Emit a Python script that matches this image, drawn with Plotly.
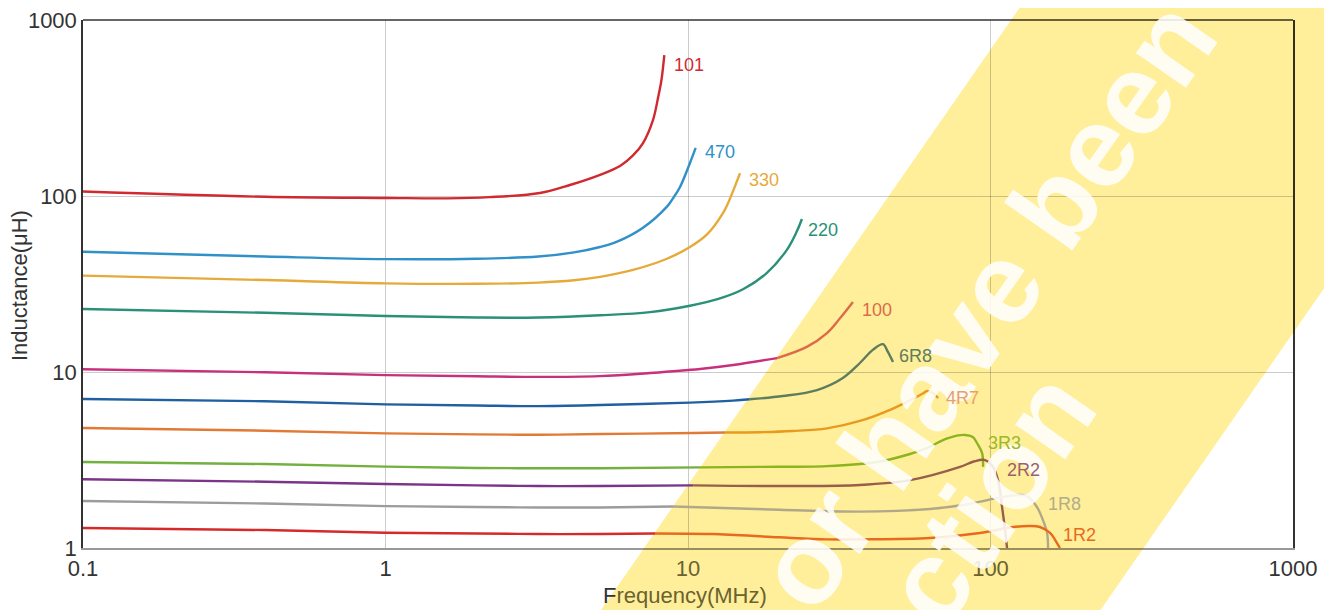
import numpy as np
import plotly.graph_objects as go

# ---------------- data ----------------
series_names = ["101", "470", "330", "220", "100", "6R8", "4R7", "3R3", "2R2", "1R8", "1R2"]

freq_101 = [0.1, 0.4, 1.0, 1.6, 2.2, 3.24, 4.07, 5.12, 5.96, 6.58, 7.10, 7.66, 7.97, 8.17, 8.35]
ind_101 = [106, 99, 97.5, 97, 98.5, 104, 115.5, 132, 148, 170, 200, 270, 365, 456, 632]

freq_470 = [0.1, 0.4, 1.0, 2.0, 3.2, 4.2, 5.12, 5.83, 7.10, 8.52, 8.92, 9.41, 10.15, 10.6]
ind_470 = [48.2, 45.3, 43.8, 44.0, 45.3, 47.8, 51.3, 55.0, 66, 87, 97, 112.5, 154, 187.5]

freq_330 = [0.1, 0.4, 1.0, 2.0, 3.2, 4.2, 5.12, 6.58, 8.52, 10.15, 11.56, 13.05, 13.56, 14.1, 14.86]
ind_330 = [35.3, 33.3, 31.9, 31.7, 32.2, 33.2, 34.7, 38.0, 44.0, 51.3, 60.5, 80, 91, 107, 135]

freq_220 = [0.1, 0.4, 1.0, 2.0, 3.2, 5.12, 7.49, 10.15, 12.6, 15.2, 18.2, 21.2, 22.9, 23.8]
ind_220 = [22.8, 21.7, 20.8, 20.4, 20.4, 21.0, 21.9, 23.8, 26.0, 29.5, 36.5, 49.3, 63, 74]

freq_100 = [0.1, 0.4, 1.0, 2.0, 3.2, 5.1, 7.5, 10.96, 14.1, 19.7, 24.7, 28.8, 31.8, 35.1]
ind_100 = [10.36, 9.96, 9.6, 9.45, 9.38, 9.48, 9.87, 10.4, 10.96, 12.0, 13.9, 16.65, 20.2, 25.0]

freq_6R8 = [0.1, 0.4, 1.0, 2.0, 3.2, 5.12, 10.15, 14.1, 16.0, 20.6, 26.7, 32.5, 37.0, 40.9, 44.1, 45.8, 47.6]
ind_6R8 = [7.03, 6.82, 6.55, 6.45, 6.4, 6.49, 6.7, 6.88, 7.0, 7.3, 7.9, 9.25, 11.25, 13.4, 14.4, 13.0, 11.4]

freq_4R7 = [0.1, 0.4, 1.0, 2.0, 3.2, 5.12, 10.4, 13.25, 17.3, 22.2, 28.8, 37.0, 47.6, 55.0, 59.8, 61.7, 64.5, 67.1]
ind_4R7 = [4.81, 4.64, 4.48, 4.42, 4.40, 4.44, 4.5, 4.53, 4.55, 4.62, 4.78, 5.27, 6.2, 7.0, 7.55, 7.8, 7.6, 7.12]

freq_3R3 = [0.1, 0.4, 1.0, 2.0, 3.2, 5.12, 10.96, 17.3, 28.8, 42.2, 54.2, 61.7, 72.0, 82.3, 87.4, 90.2, 93.8, 94.5]
ind_3R3 = [3.08, 3.0, 2.90, 2.85, 2.84, 2.84, 2.87, 2.89, 2.92, 3.08, 3.42, 3.70, 4.2, 4.39, 4.27, 3.95, 3.46, 2.89]

freq_2R2 = [0.1, 0.4, 1.0, 2.0, 3.2, 5.12, 10.4, 22.2, 37.0, 54.2, 79.3, 88.0, 95.9, 101.9, 105.9, 109.2, 111.7, 113.4]
ind_2R2 = [2.46, 2.38, 2.31, 2.27, 2.25, 2.25, 2.27, 2.25, 2.28, 2.43, 2.89, 3.1, 3.16, 2.89, 2.43, 1.71, 1.27, 1.0]

freq_1R8 = [0.1, 0.4, 1.0, 2.0, 3.2, 5.12, 8.92, 20.0, 37.0, 63.1, 81.1, 105.1, 122.4, 132.1, 142.4, 149.1, 153.8, 155.0]
ind_1R8 = [1.85, 1.79, 1.73, 1.71, 1.70, 1.70, 1.72, 1.65, 1.61, 1.666, 1.755, 1.92, 2.0, 1.97, 1.71, 1.44, 1.22, 1.0]

freq_1R2 = [0.1, 0.4, 1.0, 2.0, 3.2, 5.12, 7.78, 12.0, 20.0, 28.8, 37.0, 63.1, 92.3, 118.7, 135.1, 145.7, 157.3, 165.9, 169.7]
ind_1R2 = [1.30, 1.265, 1.22, 1.21, 1.20, 1.20, 1.21, 1.20, 1.15, 1.12, 1.12, 1.14, 1.217, 1.316, 1.334, 1.316, 1.217, 1.067, 1.0]

x_tick_vals = [0.1, 1, 10, 100, 1000]
x_tick_text = ["0.1", "1", "10", "100", "1000"]
y_tick_vals = [1, 10, 100, 1000]
y_tick_text = ["1", "10", "100", "1000"]

# ---------------- styles ----------------
freqs = [freq_101, freq_470, freq_330, freq_220, freq_100, freq_6R8, freq_4R7, freq_3R3, freq_2R2, freq_1R8, freq_1R2]
inds = [ind_101, ind_470, ind_330, ind_220, ind_100, ind_6R8, ind_4R7, ind_3R3, ind_2R2, ind_1R8, ind_1R2]

base_colors = ["#d02a30", "#3090c8", "#e6aa3a", "#2a9078", "#c8307e", "#2060a0",
               "#e07a36", "#72b040", "#7a3488", "#9c9c9c", "#d42a2a"]
band_colors = ["#d02a30", "#3090c8", "#e6aa3a", "#2a9078", "#dd6a4a", "#5e7d5e",
               "#e89a1e", "#8cb41e", "#9a5e48", "#b0a888", "#e86a1e"]
label_colors = ["#d02a30", "#3090c8", "#e6aa3a", "#2a9078", "#dd6a4a", "#5e7d5e",
                "#e8a070", "#9ab82a", "#9a6070", "#b4ac8a", "#e86a1e"]
label_shift = [(8, -10), (7, -4), (7, -7), (4, -11), (7, -8), (4, 6),
               (6, 0), (3, 24), (-2, 78), (-2, 44), (1, 13)]

# page offset of the figure inside the browser window (body margin)
OX, OY = 8, 8
# plot area in window pixels
SL, ST, SW, SH = 83, 20, 1210, 528
W, H = 1332 - OX, 610 - OY
ML, MT = SL - OX, ST - OY
MR, MB = W - ML - SW, H - MT - SH


def to_screen(f, L):
    px = SL + SW * (np.log10(f) + 1) / 4.0
    py = ST + SH * (3 - np.log10(L)) / 3.0
    return px, py


def in_band(f, L):
    px, py = to_screen(f, L)
    return px >= 1025 - 0.695 * py - 2


def paper(sx, sy):
    return (sx - SL) / SW, (ST + SH - sy) / SH


fig = go.Figure()

for name, f, L, c0, c1 in zip(series_names, freqs, inds, base_colors, band_colors):
    flags = [in_band(a, b) for a, b in zip(f, L)]
    k = flags.index(True) if True in flags else None
    if k is None:
        parts = [(f, L, c0)]
    else:
        parts = [(f[:k + 1], L[:k + 1], c0), (f[k:], L[k:], c1)]
    for ff, ll, cc in parts:
        fig.add_trace(go.Scatter(
            x=ff, y=ll, mode="lines", name=name,
            line=dict(color=cc, width=2.4, shape="spline", smoothing=1.0),
            hoverinfo="skip", showlegend=False))

# yellow watermark band (drawn behind the curves)
corners = [(1025, 0), (1524.5, 0), (1100.5, 610), (601, 610)]
pc = [paper(*c) for c in corners]
path = "M " + " L ".join(f"{x:.4f},{y:.4f}" for x, y in pc) + " Z"
shapes = [
    dict(type="path", path=path, xref="paper", yref="paper",
         fillcolor="#FFEF9A", line=dict(width=0), layer="below"),
    dict(type="line", xref="paper", yref="paper", x0=0, x1=1, y0=1, y1=1,
         line=dict(color="rgba(0,0,0,0.8)", width=1.5), layer="above"),
]

annotations = []
# white watermark text
wm_font = dict(family="Liberation Sans, Arial, sans-serif", size=115, color="white")
for txt, (cx, cy) in [("or have been", (985, 305)), ("ction", (989, 498))]:
    x, y = paper(cx, cy)
    annotations.append(dict(text=f"<b>{txt}</b>", x=x, y=y, xref="paper", yref="paper",
                            xanchor="center", yanchor="middle", textangle=-55,
                            showarrow=False, font=wm_font, opacity=0.87))

# curve labels
for name, f, L, col, (dx, dy) in zip(series_names, freqs, inds, label_colors, label_shift):
    annotations.append(dict(text=name, x=np.log10(f[-1]), y=np.log10(L[-1]),
                            xref="x", yref="y", xanchor="left", yanchor="middle",
                            xshift=dx, yshift=dy, showarrow=False,
                            font=dict(family="Liberation Sans, Arial, sans-serif",
                                      size=18, color=col)))

# axis titles
ax_font = dict(family="Liberation Sans, Arial, sans-serif", size=22, color="#333333")
tx, ty = paper(685, 595)
annotations.append(dict(
    text="<span style='color:#333333'>F</span><span style='color:#6a6230'>requency(MHz)</span>",
    x=tx, y=ty, xref="paper", yref="paper", xanchor="center", yanchor="middle",
    showarrow=False, font=ax_font))
yx, yy = paper(19, 286)
annotations.append(dict(text="Inductance(μH)", x=yx, y=yy, xref="paper", yref="paper",
                        xanchor="center", yanchor="middle", textangle=-90,
                        showarrow=False, font=ax_font))

x_tick_display = []
for v, t in zip(x_tick_vals, x_tick_text):
    pxv, _ = to_screen(v, 1)
    if 1025 - 0.695 * 565 <= pxv <= 1524.5 - 0.695 * 565:
        x_tick_display.append(f"<span style='color:#6a6230'>{t}</span>")
    else:
        x_tick_display.append(t)

fig.update_layout(
    width=W, height=H,
    margin=dict(l=ML, r=MR, t=MT, b=MB, pad=0, autoexpand=False),
    paper_bgcolor="white", plot_bgcolor="rgba(0,0,0,0)",
    shapes=shapes, annotations=annotations,
    font=dict(family="Liberation Sans, Arial, sans-serif", size=22, color="#333333"),
    xaxis=dict(type="log", range=[-1, 3], tickvals=x_tick_vals, ticktext=x_tick_display,
               showgrid=True, gridcolor="rgba(0,0,0,0.2)", gridwidth=1,
               showline=True, linecolor="rgba(0,0,0,0.4)", linewidth=2,
               ticks="", zeroline=False, ticklabeloverflow="allow", automargin=False,
               tickfont=dict(size=22, color="#333333")),
    yaxis=dict(type="log", range=[0, 3], tickvals=y_tick_vals, ticktext=y_tick_text,
               showgrid=True, gridcolor="rgba(0,0,0,0.2)", gridwidth=1,
               showline=True, linecolor="rgba(0,0,0,0.8)", linewidth=1.5, mirror=True,
               ticks="", zeroline=False, ticklabeloverflow="allow", automargin=False,
               tickfont=dict(size=22, color="#333333")),
)

fig.write_html("out.html")
